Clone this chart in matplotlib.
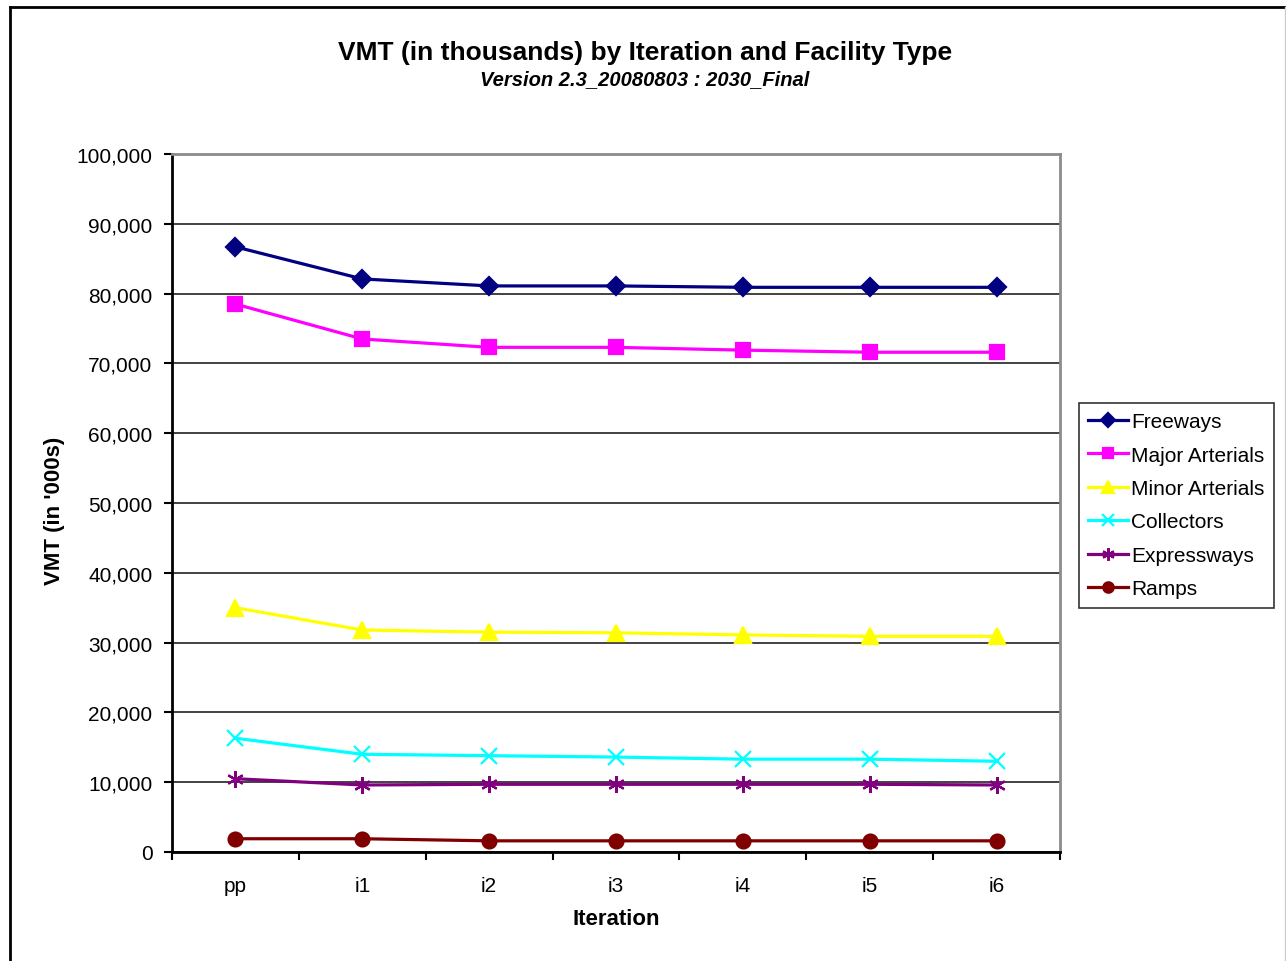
import matplotlib
matplotlib.use("Agg")
import matplotlib.pyplot as plt
from matplotlib.lines import Line2D
from matplotlib.ticker import FuncFormatter, FixedLocator
import numpy as np

plt.rcParams["font.family"] = ["Liberation Sans", "DejaVu Sans"]

iterations = ["pp", "i1", "i2", "i3", "i4", "i5", "i6"]

# VMT in thousands per facility type
freeways     = [86700, 82100, 81100, 81100, 80900, 80900, 80900]
major_art    = [78500, 73500, 72300, 72300, 71900, 71600, 71600]
minor_art    = [35000, 31800, 31500, 31400, 31100, 30900, 30900]
collectors   = [16300, 14000, 13800, 13600, 13300, 13300, 13000]
expressways  = [10500,  9600,  9700,  9700,  9700,  9700,  9600]
ramps        = [ 1900,  1900,  1600,  1600,  1600,  1600,  1600]

series = [
    ("Freeways",        freeways,    "#000080", "D", 9),
    ("Major Arterials", major_art,   "#FF00FF", "s", 10),
    ("Minor Arterials", minor_art,   "#FFFF00", "^", 11),
    ("Collectors",      collectors,  "#00FFFF", "x", 11),
    ("Expressways",     expressways, "#800080", (6, 2, 0), 12),
    ("Ramps",           ramps,       "#800000", "o", 10),
]

fig = plt.figure(figsize=(12.86, 9.62), dpi=100)
ax = fig.add_axes([172/1286, 1 - 853/962, (1060 - 172)/1286, (853 - 155)/962])

x = np.arange(len(iterations))
for name, vals, color, marker, ms in series:
    ax.plot(x, vals, color=color, lw=2.3, marker=marker, ms=ms,
            mec=color, mew=1.6, label=name, zorder=3)

ax.set_xlim(-0.5, len(iterations) - 0.5)
ax.set_ylim(0, 100000)
ax.set_yticks(np.arange(0, 100001, 10000))
ax.yaxis.set_major_formatter(FuncFormatter(lambda v, p: f"{int(v):,}"))
ax.grid(axis="y", color="#222222", lw=1.2, zorder=1)

ax.set_xticks(x)
ax.set_xticklabels(iterations)
ax.xaxis.set_minor_locator(FixedLocator(np.arange(-0.5, len(iterations), 1.0)))
ax.tick_params(axis="x", which="major", length=0, pad=17, labelsize=15)
ax.tick_params(axis="x", which="minor", length=6, width=1.5, direction="out")
ax.tick_params(axis="y", length=6, width=1.5, direction="out", labelsize=15, pad=8)

for side in ("left", "bottom"):
    ax.spines[side].set_linewidth(2)
    ax.spines[side].set_color("black")
for side in ("top", "right"):
    ax.spines[side].set_linewidth(2)
    ax.spines[side].set_color("#8c8c8c")

ax.set_xlabel("Iteration", fontsize=16, fontweight="bold", labelpad=10)
ax.set_ylabel("VMT (in '000s)", fontsize=16, fontweight="bold")
ax.yaxis.set_label_coords(-0.121, 0.49)

fig.text(645/1286, 1 - 53/962, "VMT (in thousands) by Iteration and Facility Type",
         ha="center", va="center", fontsize=19, fontweight="bold")
fig.text(645/1286, 1 - 80/962, "Version 2.3_20080803 : 2030_Final",
         ha="center", va="center", fontsize=14.5, fontweight="bold", style="italic")

leg = fig.legend(loc="upper left", bbox_to_anchor=(1079/1286, 1 - 404/962),
                 bbox_transform=fig.transFigure, fontsize=15, frameon=True,
                 fancybox=False, edgecolor="black", borderaxespad=0,
                 handlelength=1.9, handletextpad=0.15, labelspacing=0.69,
                 borderpad=0.45, markerscale=0.75)
leg.get_frame().set_linewidth(1.2)

# outer chart border
fig.add_artist(Line2D([10/1286, 10/1286], [0, 1 - 8/962], transform=fig.transFigure,
                      color="black", lw=2))
fig.add_artist(Line2D([10/1286, 1], [1 - 8/962, 1 - 8/962], transform=fig.transFigure,
                      color="black", lw=2))
fig.add_artist(Line2D([1285/1286, 1285/1286], [0, 1 - 8/962], transform=fig.transFigure,
                      color="#cccccc", lw=1))

fig.savefig("out.png", dpi=100)
